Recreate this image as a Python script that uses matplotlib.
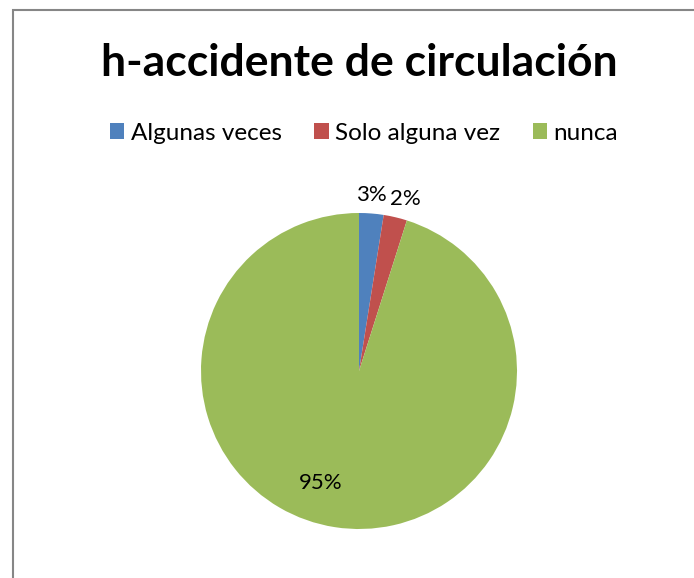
import matplotlib.pyplot as plt
from matplotlib.patches import Rectangle
import numpy as np

# data
categories = ["Algunas veces", "Solo alguna vez", "nunca"]
values = [2.5, 2.4, 95.1]
pct_labels = ["3%", "2%", "95%"]
colors = ["#4F81BD", "#C0504D", "#9BBB59"]

plt.rcParams['font.family'] = ['Lato', 'DejaVu Sans']

W, H = 694, 578
fig = plt.figure(figsize=(W / 100, H / 100), dpi=100)

# outer gray frame (cropped at right / bottom)
fig.patches.append(Rectangle((12.5 / W, -0.1), 2, 1.1 - 10.5 / H,
                             transform=fig.transFigure, fill=False,
                             edgecolor="#868686", linewidth=1.5))

# pie axes, center (359, 371), radius 158 px
cx, cy, r = 359, 371, 158
ax = fig.add_axes([(cx - r) / W, (H - cy - r) / H, 2 * r / W, 2 * r / H])
wedges, _ = ax.pie(values, colors=colors, startangle=90, counterclock=False,
                   wedgeprops=dict(linewidth=0))
ax.set_xlim(-1, 1)
ax.set_ylim(-1, 1)
ax.set_aspect('equal')
ax.axis('off')

# percentage labels (the two small ones sit side by side above the pie)
label_style = [
    dict(dist=1.12, ha='right', dx=14),
    dict(dist=1.12, ha='left', dx=-10),
    dict(dist=0.75, ha='center', dx=0, angle=251),
]
for w, lab, st in zip(wedges, pct_labels, label_style):
    ang = st.get('angle', (w.theta1 + w.theta2) / 2)
    mid = np.deg2rad(ang)
    ax.annotate(lab, (st['dist'] * np.cos(mid), st['dist'] * np.sin(mid)),
                xytext=(st['dx'] * 0.72, 0), textcoords='offset points',
                ha=st['ha'], va='center', fontsize=16, color='black',
                annotation_clip=False)

fig.text(cx / W, 1 - 63 / H, "h-accidente de circulación", ha='center',
         va='center', fontsize=32, fontweight='bold')

fig.legend(wedges, categories, loc='center', bbox_to_anchor=(364 / W, 1 - 133 / H),
           ncol=3, frameon=False, fontsize=17.5, handlelength=0.6,
           handleheight=0.6, handletextpad=0.25, columnspacing=1.35,
           borderpad=0, borderaxespad=0)

plt.savefig("out.png", dpi=100)
